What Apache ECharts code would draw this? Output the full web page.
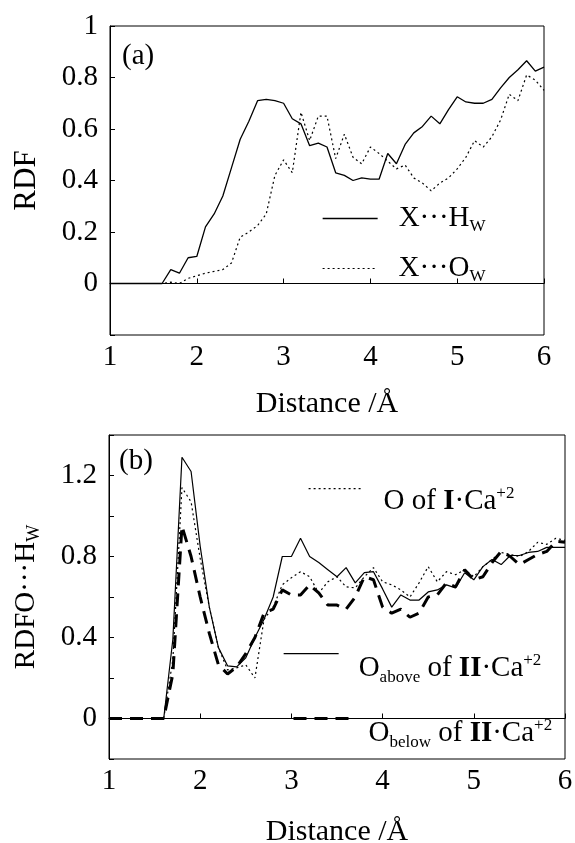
<!DOCTYPE html>
<html><head><meta charset="utf-8">
<script src="https://cdn.jsdelivr.net/npm/echarts@6/dist/echarts.min.js"></script>
<style>html,body{margin:0;padding:0;background:#fff}#c{width:575px;height:843px}</style>
</head><body><div id="c"></div>
<script>
// Distance (Å)
const distance = [1.0,1.1,1.2,1.3,1.4,1.5,1.6,1.7,1.8,1.9,
  2.0,2.1,2.2,2.3,2.4,2.5,2.6,2.7,2.8,2.9,
  3.0,3.1,3.2,3.3,3.4,3.5,3.6,3.7,3.8,3.9,
  4.0,4.1,4.2,4.3,4.4,4.5,4.6,4.7,4.8,4.9,
  5.0,5.1,5.2,5.3,5.4,5.5,5.6,5.7,5.8,5.9,6.0];

// Panel (a)
const rdfXH = [0,0,0,0,0,0,0,0.054,0.04,0.10,
  0.105,0.22,0.27,0.34,0.45,0.56,0.63,0.71,0.715,0.71,
  0.70,0.64,0.62,0.535,0.545,0.53,0.43,0.42,0.40,0.41,
  0.405,0.405,0.505,0.465,0.54,0.585,0.61,0.65,0.62,0.675,
  0.725,0.705,0.70,0.70,0.715,0.76,0.80,0.83,0.865,0.825,0.84];
const rdfXO = [0,0,0,0,0,0,0,0.005,0,0.02,
  0.03,0.04,0.047,0.054,0.08,0.18,0.20,0.225,0.27,0.42,
  0.48,0.43,0.665,0.555,0.65,0.65,0.485,0.58,0.49,0.465,
  0.53,0.505,0.475,0.445,0.46,0.41,0.39,0.36,0.39,0.41,
  0.445,0.49,0.555,0.53,0.57,0.635,0.735,0.71,0.81,0.79,0.75];

// Panel (b)
const rdfOI = [0,0,0,0,0,0,0,0.29,1.14,1.07,
  0.79,0.55,0.35,0.24,0.25,0.265,0.20,0.49,0.55,0.66,
  0.695,0.725,0.70,0.62,0.675,0.70,0.65,0.645,0.70,0.745,
  0.675,0.66,0.635,0.60,0.67,0.75,0.675,0.725,0.71,0.735,
  0.70,0.75,0.785,0.82,0.81,0.80,0.825,0.87,0.86,0.89,0.88];
const rdfOabove = [0,0,0,0,0,0,0,0.39,1.29,1.22,
  0.85,0.55,0.35,0.26,0.255,0.30,0.40,0.49,0.60,0.80,
  0.80,0.89,0.80,0.77,0.735,0.70,0.745,0.67,0.72,0.725,
  0.64,0.55,0.61,0.585,0.585,0.625,0.635,0.66,0.645,0.72,
  0.685,0.75,0.785,0.76,0.805,0.805,0.82,0.825,0.845,0.845,0.845];
const rdfObelow = [0,0,0,0,0,0,0,0.22,0.95,0.80,
  0.60,0.42,0.265,0.22,0.255,0.32,0.40,0.52,0.54,0.635,
  0.61,0.61,0.66,0.62,0.56,0.56,0.54,0.60,0.70,0.685,
  0.55,0.52,0.54,0.50,0.52,0.60,0.61,0.67,0.65,0.735,
  0.685,0.70,0.77,0.825,0.80,0.76,0.785,0.81,0.825,0.875,0.87];

const xTicksLabel = [1,2,3,4,5,6];

const FONT = 'Liberation Serif, Times New Roman, serif';
const pair = (ys) => distance.map((d, i) => [d, ys[i]]);

const STYLE_SOLID = {color: '#000', width: 1.3, type: 'solid'};
const STYLE_DOT = {color: '#000', width: 1.2, type: [2, 3]};
const STYLE_DASH = {color: '#000', width: 3, type: [13, 8]};

const richStyles = {
  n: {fontFamily: FONT, fontSize: 29, color: '#000', lineHeight: 34},
  sub: {fontFamily: FONT, fontSize: 17, color: '#000', verticalAlign: 'bottom', lineHeight: 20},
  sup: {fontFamily: FONT, fontSize: 17, color: '#000', verticalAlign: 'top', lineHeight: 20},
  b: {fontFamily: FONT, fontSize: 29, color: '#000', fontWeight: 'bold', lineHeight: 34}
};
const legendText = {
  'X···HW': '{n|X···H}{sub|W}',
  'X···OW': '{n|X···O}{sub|W}',
  'O of I·Ca+2': '{n|O of }{b|I}{n|·Ca}{sup|+2}',
  'Oabove of II·Ca+2': '{n|O}{sub|above}{n| of }{b|II}{n|·Ca}{sup|+2}',
  'Obelow of II·Ca+2': '{n|O}{sub|below}{n| of }{b|II}{n|·Ca}{sup|+2}'
};
function mkLegend(name, left, top, padTop, padLeft, ls) {
  return {
    data: [name], left: left, top: top, padding: 0,
    itemWidth: 55, itemHeight: 14, selectedMode: false,
    itemStyle: {opacity: 0, color: 'rgba(0,0,0,0)', borderWidth: 0},
    lineStyle: Object.assign({opacity: 1}, ls),
    formatter: n => legendText[n],
    textStyle: {rich: richStyles, padding: [padTop, 0, 0, padLeft]}
  };
}

function xAxisOf(grid, gap) {
  return {
    gridIndex: grid, type: 'value', min: 1, max: 6, interval: 1,
    axisLine: {lineStyle: {color: '#000', width: 1}},
    axisTick: {inside: true, length: 5, lineStyle: {color: '#000'}},
    axisLabel: {color: '#000', fontFamily: FONT, fontSize: 29, margin: 8,
      formatter: v => xTicksLabel.indexOf(Math.round(v)) >= 0 ? String(Math.round(v)) : ''},
    splitLine: {show: false},
    name: 'Distance /Å', nameLocation: 'middle', nameGap: gap,
    nameTextStyle: {color: '#000', fontFamily: FONT, fontSize: 30}
  };
}

const chart = echarts.init(document.getElementById('c'), null, {renderer: 'canvas'});
chart.setOption({
  backgroundColor: '#fff',
  animation: false,
  title: [
    {text: '(a)', left: 122, top: 42, padding: 0, textStyle: {fontFamily: FONT, fontSize: 29, fontWeight: 'normal', color: '#000'}},
    {text: '(b)', left: 119, top: 447, padding: 0, textStyle: {fontFamily: FONT, fontSize: 29, fontWeight: 'normal', color: '#000'}}
  ],
  legend: [
    mkLegend('X···HW', 322, 204, 0, 16, STYLE_SOLID),
    mkLegend('X···OW', 322, 254, 0, 16, STYLE_DOT),
    mkLegend('O of I·Ca+2', 308, 483, 26, 15, STYLE_DOT),
    mkLegend('Oabove of II·Ca+2', 283, 648, 30, 15, STYLE_SOLID),
    mkLegend('Obelow of II·Ca+2', 292, 713, 30, 15, STYLE_DASH)
  ],
  grid: [
    {left: 110, top: 26, width: 434, height: 309, show: true, borderColor: '#000', borderWidth: 1, containLabel: false, outerBoundsMode: 'none'},
    {left: 109, top: 435, width: 456, height: 324, show: true, borderColor: '#000', borderWidth: 1, containLabel: false, outerBoundsMode: 'none'}
  ],
  xAxis: [xAxisOf(0, 54), xAxisOf(1, 58)],
  yAxis: [
    {gridIndex: 0, type: 'value', min: -0.2, max: 1, interval: 0.2,
      axisLine: {show: true, lineStyle: {color: '#000'}},
      axisTick: {show: true, inside: true, length: 5, lineStyle: {color: '#000'}},
      axisLabel: {color: '#000', fontFamily: FONT, fontSize: 29, margin: 12,
        formatter: v => v < -0.05 ? '' : String(Math.round(v * 10) / 10)},
      splitLine: {show: false},
      name: 'RDF', nameLocation: 'middle', nameRotate: 90, nameGap: 68,
      nameTextStyle: {color: '#000', fontFamily: FONT, fontSize: 31}},
    {gridIndex: 1, type: 'value', min: -0.2, max: 1.4, interval: 0.2,
      axisLine: {show: true, lineStyle: {color: '#000'}},
      axisTick: {show: true, inside: true, length: 5, lineStyle: {color: '#000'}},
      axisLabel: {color: '#000', fontFamily: FONT, fontSize: 29, margin: 12,
        formatter: v => { const k = Math.round(v * 10); return (k >= 0 && k % 4 === 0) ? String(k / 10) : ''; }},
      splitLine: {show: false},
      name: '{a|RDFO···H}{s|W}', nameLocation: 'middle', nameRotate: 90, nameGap: 66,
      nameTextStyle: {rich: {
        a: {color: '#000', fontFamily: FONT, fontSize: 29, lineHeight: 34},
        s: {color: '#000', fontFamily: FONT, fontSize: 18, verticalAlign: 'bottom', lineHeight: 22}
      }}}
  ],
  series: [
    {name: 'X···HW', type: 'line', xAxisIndex: 0, yAxisIndex: 0, data: pair(rdfXH), symbol: 'none',
      lineStyle: STYLE_SOLID, itemStyle: {color: '#000'}},
    {name: 'X···OW', type: 'line', xAxisIndex: 0, yAxisIndex: 0, data: pair(rdfXO), symbol: 'none',
      lineStyle: STYLE_DOT, itemStyle: {color: '#000'}},
    {name: 'O of I·Ca+2', type: 'line', xAxisIndex: 1, yAxisIndex: 1, data: pair(rdfOI), symbol: 'none',
      lineStyle: STYLE_DOT, itemStyle: {color: '#000'}},
    {name: 'Oabove of II·Ca+2', type: 'line', xAxisIndex: 1, yAxisIndex: 1, data: pair(rdfOabove), symbol: 'none',
      lineStyle: {color: '#000', width: 1.2, type: 'solid'}, itemStyle: {color: '#000'}},
    {name: 'Obelow of II·Ca+2', type: 'line', xAxisIndex: 1, yAxisIndex: 1, data: pair(rdfObelow), symbol: 'none',
      lineStyle: STYLE_DASH, itemStyle: {color: '#000'}}
  ]
});
</script></body></html>
